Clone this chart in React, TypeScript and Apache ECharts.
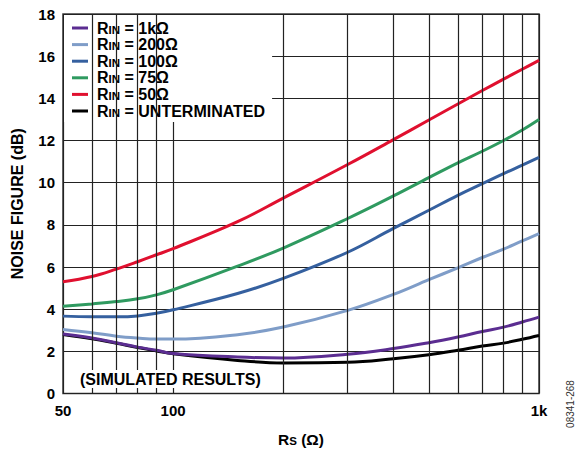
import React, { useEffect, useRef } from "react";
import * as echarts from "echarts";

const rs = [50, 60, 70, 80, 90, 100, 150, 200, 300, 400, 500, 600, 700, 800, 900, 1000];
const nf1k = [2.82, 2.63, 2.41, 2.2, 2.05, 1.9, 1.73, 1.68, 1.86, 2.13, 2.41, 2.68, 2.94, 3.15, 3.39, 3.62];
const nf200 = [3.04, 2.88, 2.72, 2.63, 2.58, 2.58, 2.79, 3.15, 3.94, 4.7, 5.4, 5.96, 6.45, 6.85, 7.24, 7.58];
const nf100 = [3.67, 3.64, 3.64, 3.68, 3.81, 3.97, 4.74, 5.46, 6.7, 7.83, 8.69, 9.4, 9.95, 10.43, 10.83, 11.2];
const nf75 = [4.14, 4.25, 4.36, 4.49, 4.68, 4.92, 6.04, 6.9, 8.3, 9.37, 10.24, 10.94, 11.49, 12.0, 12.5, 13.0];
const nf50 = [5.3, 5.55, 5.9, 6.25, 6.58, 6.87, 8.15, 9.27, 10.86, 12.04, 12.97, 13.73, 14.37, 14.91, 15.38, 15.8];
const nfUnterm = [2.8, 2.6, 2.38, 2.18, 2.02, 1.88, 1.57, 1.45, 1.48, 1.65, 1.84, 2.05, 2.25, 2.39, 2.57, 2.75];

const seriesNames = ["1kΩ", "200Ω", "100Ω", "75Ω", "50Ω", "UNTERMINATED"];
const seriesColors = ["#5b2d91", "#7f9dc8", "#35609f", "#2f9a60", "#e0102f", "#000000"];
const seriesData = [nf1k, nf200, nf100, nf75, nf50, nfUnterm];

const minorGridX = [60, 70, 80, 90, 200, 300, 400, 500, 600, 700, 800, 900];

const FONT = "'Liberation Sans', Arial, Helvetica, sans-serif";

export default function App() {
  const ref = useRef<HTMLDivElement>(null);
  useEffect(() => {
    if (!ref.current) return;
    const chart = echarts.init(ref.current, undefined, { renderer: "svg" });
    const lineSeries = seriesNames.map((name, i) => ({
      name,
      type: "line",
      data: rs.map((x, j) => [x, seriesData[i][j]]),
      smooth: 0.4,
      showSymbol: false,
      symbol: "none",
      lineStyle: { color: seriesColors[i], width: 3 },
      itemStyle: { color: seriesColors[i] },
      z: 3,
    }));
    const order = [5, 0, 1, 2, 3, 4];
    chart.setOption({
      animation: false,
      backgroundColor: "#fff",
      textStyle: { fontFamily: FONT },
      grid: {
        left: 63,
        right: 39,
        top: 14,
        bottom: 57,
        show: true,
        borderColor: "#3a3a3a",
        borderWidth: 1.5,
        backgroundColor: "transparent",
      },
      legend: {
        data: seriesNames,
        orient: "vertical",
        left: 64,
        top: 15,
        padding: [5, 7, 3, 8],
        backgroundColor: "#ffffff",
        icon: "rect",
        itemWidth: 16,
        itemHeight: 3,
        itemGap: 0.6,
        formatter: (name: string) => `{p|R}{s|IN}{r| = ${name}}`,
        textStyle: {
          fontFamily: FONT,
          fontWeight: "bold",
          fontSize: 16,
          color: "#000",
          rich: {
            p: { fontFamily: FONT, fontWeight: "bold", fontSize: 16, lineHeight: 15, padding: [0, 0, 0, 4] },
            r: { fontFamily: FONT, fontWeight: "bold", fontSize: 16, lineHeight: 15 },
            s: { fontFamily: FONT, fontWeight: "bold", fontSize: 11.5, lineHeight: 4, verticalAlign: "bottom" },
          },
        },
      },
      xAxis: {
        type: "log",
        logBase: 10,
        min: 50,
        max: 1000,
        name: "{r|R}{s|S}{r| (Ω)}",
        nameLocation: "middle",
        nameGap: 38,
        nameTextStyle: {
          rich: {
            r: { fontFamily: FONT, fontWeight: "bold", fontSize: 15.5, lineHeight: 15, color: "#000" },
            s: { fontFamily: FONT, fontWeight: "bold", fontSize: 11.5, lineHeight: 4, verticalAlign: "bottom", color: "#000" },
          },
        },
        axisLine: { show: false },
        axisTick: { show: false },
        axisLabel: {
          margin: 9,
          fontFamily: FONT,
          fontWeight: "bold",
          fontSize: 15,
          color: "#000",
          formatter: (v: number) => {
            const r = Math.round(v);
            return r === 1000 ? "1k" : String(r);
          },
        },
        splitLine: { show: true, lineStyle: { color: "#222", width: 1.2 } },
        minorTick: { show: false },
      },
      yAxis: {
        type: "value",
        min: 0,
        max: 18,
        interval: 2,
        name: "NOISE FIGURE (dB)",
        nameLocation: "middle",
        nameGap: 38,
        nameTextStyle: { fontFamily: FONT, fontWeight: "bold", fontSize: 16, color: "#000" },
        axisLine: { show: false },
        axisTick: { show: false },
        axisLabel: { margin: 8, fontFamily: FONT, fontWeight: "bold", fontSize: 15, color: "#000" },
        splitLine: { show: true, lineStyle: { color: "#222", width: 1.2 } },
      },
      series: [
        {
          name: "__grid",
          type: "line",
          data: [],
          silent: true,
          z: 1,
          markLine: {
            silent: true,
            symbol: "none",
            label: { show: false },
            lineStyle: { color: "#222", width: 1.2, type: "solid" },
            data: minorGridX.map((x) => ({ xAxis: x })),
          },
        },
        ...order.map((i) => lineSeries[i]),
      ],
      graphic: [
        {
          type: "text",
          left: 79,
          top: 370,
          z: 100,
          style: {
            text: "(SIMULATED RESULTS)",
            fill: "#000",
            font: `bold 16px ${FONT}`,
            backgroundColor: "#fff",
            padding: [1, 1, 1, 1],
          },
        },
        {
          type: "text",
          x: 570,
          y: 404,
          rotation: Math.PI / 2,
          z: 100,
          style: {
            text: "08341-268",
            fill: "#333",
            font: `10px ${FONT}`,
            align: "center",
            verticalAlign: "middle",
          },
        },
      ],
    });
    return () => chart.dispose();
  }, []);
  return (
    <div
      ref={ref}
      style={{ position: "absolute", left: 0, top: 0, width: 578, height: 452 }}
    />
  );
}
